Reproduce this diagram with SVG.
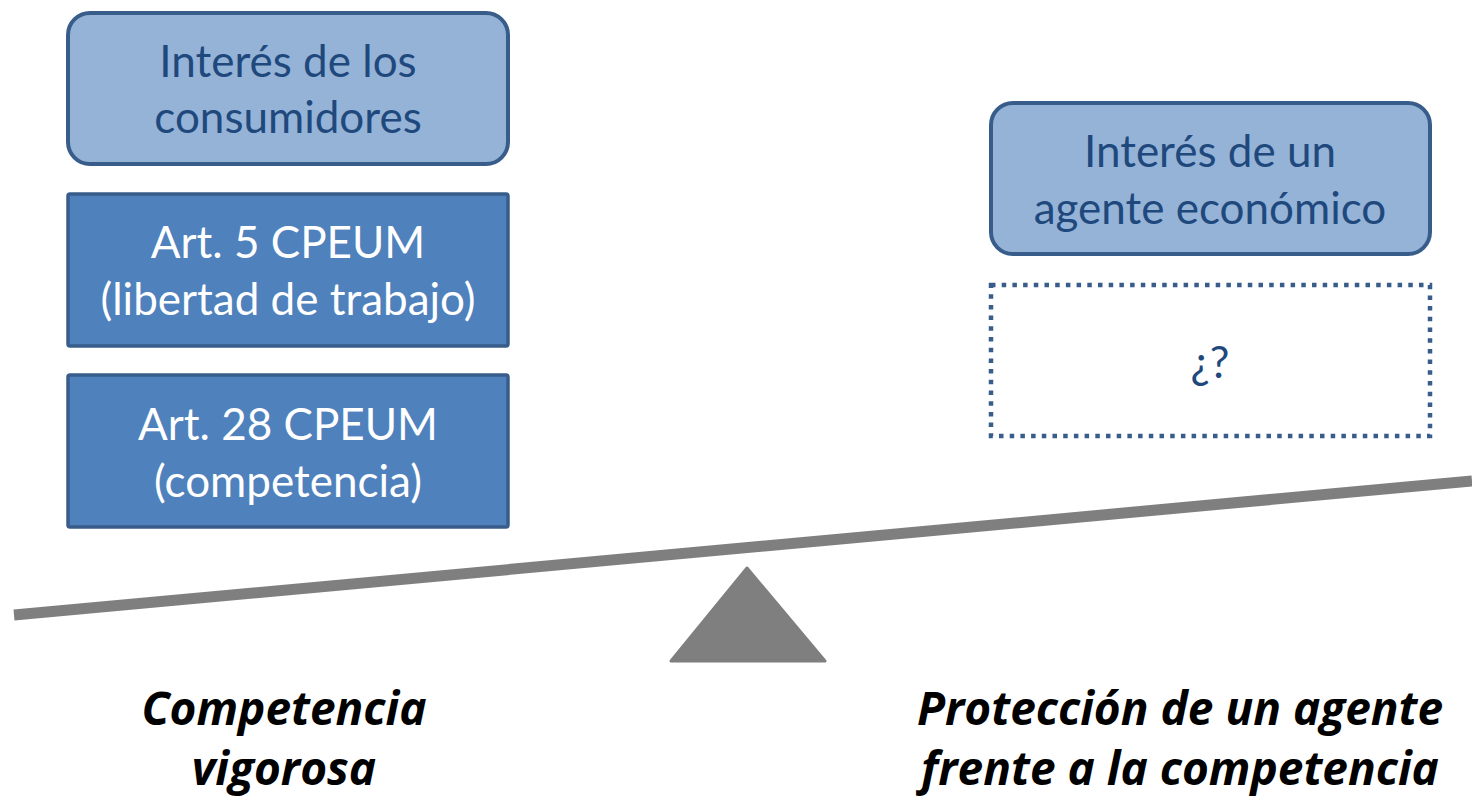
<svg xmlns="http://www.w3.org/2000/svg" width="1472" height="796" viewBox="0 0 1472 796">
<style>
.t{font-family:Lato,"Open Sans","Liberation Sans",sans-serif;font-size:44px;text-anchor:middle}
.dk{fill:#1F497D}
.wh{fill:#FFFFFF}
.light{fill:#95B3D7;stroke:#385D8A;stroke-width:4}
.dark{fill:#4F81BD;stroke:#385D8A;stroke-width:3.5}
.b{font-family:"Open Sans",Lato,"Liberation Sans",sans-serif;font-size:46px;font-weight:bold;font-style:italic;text-anchor:middle;fill:#000}
</style>
<rect width="1472" height="796" fill="#FFFFFF"/>
<g id="consumidores">
<rect class="light" x="68" y="13" width="440" height="151" rx="22"/>
<text class="t dk" x="288" y="77">Interés de los</text>
<text class="t dk" x="288" y="133">consumidores</text>
</g>
<g id="art5">
<rect class="dark" x="68" y="194" width="440" height="152" rx="2"/>
<text class="t wh" x="288" y="258">Art. 5 CPEUM</text>
<text class="t wh" x="288" y="315">(libertad de trabajo)</text>
</g>
<g id="art28">
<rect class="dark" x="68" y="375" width="440" height="152" rx="2"/>
<text class="t wh" x="288" y="440">Art. 28 CPEUM</text>
<text class="t wh" x="288" y="497">(competencia)</text>
</g>
<g id="agente">
<rect class="light" x="991" y="103" width="439" height="151" rx="22"/>
<text class="t dk" x="1210" y="167">Interés de un</text>
<text class="t dk" x="1210" y="224">agente económico</text>
</g>
<g id="incognita">
<rect x="991" y="285" width="439" height="151" fill="none" stroke="#385D8A" stroke-width="4.5" stroke-dasharray="4.5 6.2"/>
<text class="t dk" x="1210" y="378">¿?</text>
</g>
<g id="balanza">
<line x1="14" y1="615" x2="1472" y2="481" stroke="#7F7F7F" stroke-width="11"/>
<polygon points="747,568 825,661 671,661" fill="#7F7F7F" stroke="#7F7F7F" stroke-width="3" stroke-linejoin="round"/>
</g>
<g id="etiquetas">
<text class="b" x="284" y="725">Competencia</text>
<text class="b" x="284" y="785">vigorosa</text>
<text class="b" x="1180" y="725">Protección de un agente</text>
<text class="b" x="1180" y="785">frente a la competencia</text>
</g>
</svg>
